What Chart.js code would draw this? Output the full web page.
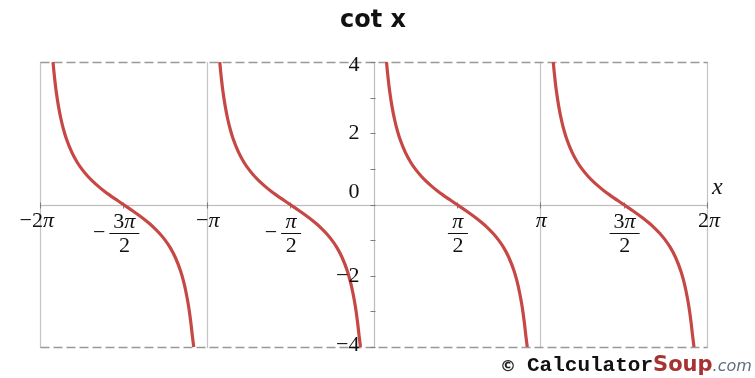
<!DOCTYPE html>
<html>
<head>
<meta charset="utf-8">
<title>cot x</title>
<script src="https://cdn.jsdelivr.net/npm/chart.js@4.4.1/dist/chart.umd.min.js"></script>
<style>
  html, body { margin: 0; padding: 0; background: #fff; }
  #wrap { width: 755px; height: 378px; position: relative; }
</style>
</head>
<body>
<div id="wrap"><canvas id="grafico"></canvas></div>
<script>
const PI = Math.PI;

// início de cada ramo da cotangente (assíntotas)
const branchStarts = [-2 * PI, -PI, 0, PI];

// forma de um ramo: deslocamento a partir da assíntota e valor de cot x
const branchOffsets = [0.245, 0.26, 0.28, 0.30, 0.35, 0.40, 0.45, 0.50, 0.60, 0.70, 0.80, 0.90, 1.00,
  1.10, 1.20, 1.30, 1.40, 1.50, 1.5708, 1.65, 1.75, 1.85, 1.95, 2.05, 2.15, 2.25, 2.35, 2.45,
  2.55, 2.65, 2.70, 2.75, 2.80, 2.84, 2.87, 2.8966];
const branchValues = [4.00, 3.76, 3.48, 3.23, 2.74, 2.365, 2.07, 1.83, 1.462, 1.187, 0.971, 0.794, 0.642,
  0.509, 0.389, 0.277, 0.172, 0.071, 0, -0.079, -0.181, -0.287, -0.398, -0.520, -0.654, -0.808, -0.987, -1.205,
  -1.487, -1.872, -2.132, -2.455, -2.86, -3.29, -3.68, -4.00];

// rótulos dos eixos
const yTicks = [4, 2, 0, -2, -4];
const yMinorTicks = [3, 1, -1, -3];
const xTickValues = [-2 * PI, -3 * PI / 2, -PI, -PI / 2, PI / 2, PI, 3 * PI / 2, 2 * PI];
const xTickLabels = [
  { sign: "−", num: "2π" },
  { sign: "−", num: "3π", den: "2" },
  { sign: "−", num: "π" },
  { sign: "−", num: "π", den: "2" },
  { sign: "", num: "π", den: "2" },
  { sign: "", num: "π" },
  { sign: "", num: "3π", den: "2" },
  { sign: "", num: "2π" }
];
const gridX = [-2 * PI, -PI, PI, 2 * PI];

const corCurva = "#c64845";
const serif = "'Liberation Serif', 'DejaVu Serif', serif";
const tamRotulo = 22;

// monta os datasets, um por ramo
const datasets = branchStarts.map(x0 => ({
  data: branchOffsets.map((dx, i) => ({ x: x0 + dx, y: branchValues[i] })),
  borderColor: corCurva,
  borderWidth: 3.2,
  pointRadius: 0,
  showLine: true,
  fill: false,
  cubicInterpolationMode: "monotone"
}));

// escreve texto com partes em itálico (o π)
function textoMisto(ctx, texto, x, y, size, align) {
  const partes = [];
  for (const ch of texto) {
    const it = ch === "π";
    if (partes.length && partes[partes.length - 1].it === it) partes[partes.length - 1].t += ch;
    else partes.push({ t: ch, it: it });
  }
  let largura = 0;
  partes.forEach(p => {
    ctx.font = (p.it ? "italic " : "") + size + "px " + serif;
    p.w = ctx.measureText(p.t).width;
    largura += p.w;
  });
  let cx = align === "center" ? x - largura / 2 : align === "right" ? x - largura : x;
  ctx.textAlign = "left";
  ctx.textBaseline = "middle";
  partes.forEach(p => {
    ctx.font = (p.it ? "italic " : "") + size + "px " + serif;
    ctx.fillText(p.t, cx, y);
    cx += p.w;
  });
  return largura;
}

const eixosPlugin = {
  id: "eixos",
  beforeDatasetsDraw(chart) {
    const { ctx, scales: { x, y } } = chart;
    const top = Math.round(y.getPixelForValue(4)) + 0.5;
    const bot = Math.round(y.getPixelForValue(-4)) + 0.5;
    const left = Math.round(x.getPixelForValue(-2 * PI)) + 0.5;
    const right = Math.round(x.getPixelForValue(2 * PI)) + 0.5;
    const x0 = Math.round(x.getPixelForValue(0)) + 0.5;
    const y0 = Math.round(y.getPixelForValue(0)) + 0.5;
    ctx.save();

    // linhas verticais pontilhadas
    ctx.strokeStyle = "#8a8a8a";
    ctx.lineWidth = 1.2;
    ctx.setLineDash([1, 1]);
    gridX.forEach(v => {
      const px = Math.round(x.getPixelForValue(v)) + 0.5;
      ctx.beginPath(); ctx.moveTo(px, top); ctx.lineTo(px, bot); ctx.stroke();
    });

    // linhas tracejadas em y = 4 e y = -4
    ctx.strokeStyle = "#999";
    ctx.lineWidth = 1.3;
    ctx.setLineDash([9, 4]);
    [top, bot].forEach(py => {
      ctx.beginPath(); ctx.moveTo(left, py); ctx.lineTo(right, py); ctx.stroke();
    });

    // eixos
    ctx.strokeStyle = "#7c7c7c";
    ctx.lineWidth = 1.2;
    ctx.setLineDash([1, 1]);
    ctx.beginPath(); ctx.moveTo(left, y0); ctx.lineTo(right, y0); ctx.stroke();
    ctx.beginPath(); ctx.moveTo(x0, top); ctx.lineTo(x0, bot); ctx.stroke();

    // marcas
    ctx.setLineDash([]);
    ctx.strokeStyle = "#7c7c7c";
    ctx.lineWidth = 1;
    xTickValues.forEach(v => {
      const px = Math.round(x.getPixelForValue(v)) + 0.5;
      ctx.beginPath(); ctx.moveTo(px, y0 - 3); ctx.lineTo(px, y0 + 3); ctx.stroke();
    });
    yTicks.concat(yMinorTicks).forEach(v => {
      const py = Math.round(y.getPixelForValue(v)) + 0.5;
      ctx.beginPath(); ctx.moveTo(x0 - 4, py); ctx.lineTo(x0 + 1, py); ctx.stroke();
    });
    ctx.restore();
  },
  afterDraw(chart) {
    const { ctx, scales: { x, y } } = chart;
    const y0 = y.getPixelForValue(0);
    const x0 = x.getPixelForValue(0);
    ctx.save();
    ctx.fillStyle = "#111";

    // título
    ctx.font = "bold 24px 'DejaVu Sans', Verdana, sans-serif";
    ctx.textAlign = "center";
    ctx.textBaseline = "middle";
    ctx.fillText("cot x", 373, 21);

    // rótulos do eixo y
    yTicks.forEach(v => {
      let py = y.getPixelForValue(v);
      if (v === 0) py -= 12;
      if (v === 4) py += 3;
      if (v === -4) py -= 2;
      const txt = v < 0 ? "−" + Math.abs(v) : String(v);
      ctx.fillStyle = "#111";
      textoMisto(ctx, txt, x0 - 14, py, tamRotulo, "right");
    });

    // rótulos do eixo x
    const ultimo = xTickValues.length - 1;
    xTickValues.forEach((v, i) => {
      const px = x.getPixelForValue(v);
      const lab = xTickLabels[i];
      if (!lab.den) {
        // nas bordas o rótulo fica encostado para dentro
        if (i === 0) textoMisto(ctx, lab.sign + lab.num, px + 14, y0 + 17, tamRotulo, "right");
        else if (i === ultimo) textoMisto(ctx, lab.sign + lab.num, px - 9, y0 + 17, tamRotulo, "left");
        else textoMisto(ctx, lab.sign + lab.num, px + 1, y0 + 17, tamRotulo, "center");
      } else {
        const wn = textoMisto(ctx, lab.num, px + 1, y0 + 18, tamRotulo, "center");
        const bw = Math.max(wn, 12) + 8;
        const by = Math.round(y0 + 28) + 0.5;
        ctx.strokeStyle = "#111";
        ctx.lineWidth = 1;
        ctx.beginPath(); ctx.moveTo(px + 1 - bw / 2, by); ctx.lineTo(px + 1 + bw / 2, by); ctx.stroke();
        textoMisto(ctx, lab.den, px + 1, y0 + 42, tamRotulo, "center");
        if (lab.sign) textoMisto(ctx, lab.sign, px + 1 - bw / 2 - 4, by, tamRotulo, "right");
      }
    });

    // nome do eixo x
    ctx.font = "italic 24px " + serif;
    ctx.textAlign = "left";
    ctx.textBaseline = "middle";
    ctx.fillText("x", 712, 188);

    // marca d'água
    ctx.textBaseline = "alphabetic";
    ctx.fillStyle = "#222";
    ctx.font = "bold 16px 'DejaVu Sans', sans-serif";
    ctx.fillText("©", 500, 371);
    ctx.font = "bold 21px 'Liberation Mono', 'Courier New', monospace";
    ctx.fillStyle = "#111";
    ctx.fillText("Calculator", 527, 371);
    let wx = 527 + ctx.measureText("Calculator").width;
    ctx.font = "bold 21px 'DejaVu Sans', Verdana, sans-serif";
    ctx.fillStyle = "#a83232";
    ctx.fillText("Soup", wx, 371);
    wx += ctx.measureText("Soup").width;
    ctx.font = "italic 16px 'DejaVu Sans', sans-serif";
    ctx.fillStyle = "#5f6f80";
    ctx.fillText(".com", wx, 371);
    ctx.restore();
  }
};

new Chart(document.getElementById("grafico").getContext("2d"), {
  type: "scatter",
  data: { datasets: datasets },
  options: {
    responsive: true,
    maintainAspectRatio: false,
    animation: false,
    layout: { padding: { left: 40, right: 48, top: 62, bottom: 31 } },
    plugins: { legend: { display: false }, tooltip: { enabled: false }, title: { display: false } },
    scales: {
      x: { type: "linear", min: -2 * PI, max: 2 * PI, display: false },
      y: { type: "linear", min: -4, max: 4, display: false }
    }
  },
  plugins: [eixosPlugin]
});
</script>
</body>
</html>
